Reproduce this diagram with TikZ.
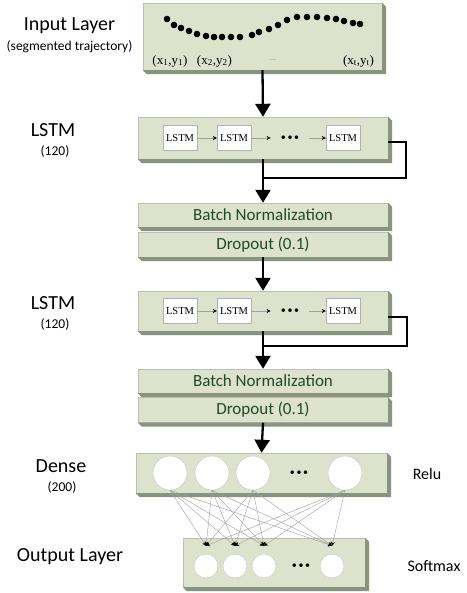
\documentclass[tikz,border=0pt]{standalone}
\usepackage{fontspec}
\setmainfont{Carlito}
\newfontfamily\timesfont{Liberation Serif}
\usetikzlibrary{arrows.meta,calc}
\definecolor{SlabFace}{HTML}{DDE2CC}
\definecolor{SlabSide}{HTML}{8A9280}
\definecolor{SlabText}{HTML}{1F4A2C}

\tikzset{
    slab/.style={fill=SlabFace, draw=SlabFace!85!black, line width=0.4pt, inner sep=0pt,
        minimum width=250pt, font=\fontsize{17}{20}\selectfont, text=SlabText},
    cell/.style={draw=gray!60, fill=white, inner sep=0pt, minimum width=34pt, minimum height=25pt,
        font=\timesfont\fontsize{10.5}{12}\selectfont},
    neuron/.style={circle, draw=gray!45, fill=white, inner sep=0pt, minimum size=34pt},
    unit/.style={circle, draw=gray!45, fill=white, inner sep=0pt, minimum size=24pt},
    layerlbl/.style={font=\fontsize{20}{24}\selectfont},
    sublbl/.style={font=\fontsize{13.5}{16}\selectfont},
    coordlbl/.style={font=\timesfont\fontsize{13}{15}\selectfont},
    flow/.style={line width=2.3pt, -{Triangle[width=15pt,length=13pt]}},
    feed/.style={line width=2.3pt},
    link/.style={draw=gray!75, line width=0.4pt, -{Stealth[length=4pt,width=4pt,color=black]}},
    dotsep/.style={font=\fontsize{10}{12}\selectfont, inner xsep=10pt, inner ysep=2pt}
}
% darker right and bottom faces of a slab
\newcommand{\slabside}[1]{%
    \fill[SlabSide] (#1.north east) -- ++(4,4) -- ($(#1.south east)+(4,4)$)
        -- ($(#1.south west)+(4,4)$) -- (#1.south west) -- (#1.south east) -- cycle;}

\begin{document}
\begin{tikzpicture}[x=1pt, y=-1pt, >=Stealth]
    \useasboundingbox (0,0) rectangle (466,593);

    % ========== Input layer ==========
    \node[slab, minimum width=239pt, minimum height=67pt] (inp) at (262.5,36.5) {};
    \slabside{inp}
    \foreach \px/\py in {167/19,174/25,181/28,189/31,197/34,206/36,214/37,222/37,231/37,240/37,
        252/35,259/32,269/29,278/25,287/20,297/17,307/17,317/17,327/18,336/19,344/21,353/23,360/24}
        \fill (\px,\py) circle (3.3);
    \node[coordlbl] (c1) at (170,61) {(x\textsubscript{1},y\textsubscript{1})};
    \node[coordlbl] (c2) at (214.5,61) {(x\textsubscript{2},y\textsubscript{2})};
    \node[coordlbl, font=\timesfont\fontsize{8}{10}\selectfont, gray] (cdots) at (273,60) {...};
    \node[coordlbl] (ct) at (358.5,61) {(x\textsubscript{t},y\textsubscript{t})};

    \node[layerlbl] (inpL) at (69.5,26) {Input Layer};
    \node[sublbl] (inpS) at (69.5,47) {(segmented trajectory)};

    % ========== First LSTM block ==========
    \node[slab, minimum height=42pt] (lstmA) at (263,138) {};
    \slabside{lstmA}
    \node[cell] (a1) at (180,138) {LSTM};
    \node[cell] (a2) at (234,138) {LSTM};
    \node[dotsep] (adots) at (290,138) {\textbullet\,\textbullet\,\textbullet};
    \node[cell] (a3) at (343,138) {LSTM};
    \draw[link] (a1) -- (a2);
    \draw[link] (a2) -- (adots);
    \draw[link] (adots) -- (a3);

    \node[layerlbl] (lstmAL) at (53,130) {LSTM};
    \node[sublbl] (lstmAS) at (55,152) {(120)};

    \node[slab, minimum height=24pt] (bnA) at (263,215) {Batch Normalization};
    \slabside{bnA}
    \node[slab, minimum height=25pt] (dropA) at (263,244.5) {Dropout (0.1)};
    \slabside{dropA}

    \draw[flow] (inp.south) -- (lstmA.north);
    \coordinate (joinA) at (263,178);
    \draw[feed] ([yshift=-4pt]lstmA.east) -- ++(18,0) |- (joinA);
    \draw[flow] (lstmA.south) -- (bnA.north);

    % ========== Second LSTM block ==========
    \node[slab, minimum height=40pt] (lstmB) at (263,311) {};
    \slabside{lstmB}
    \node[cell] (b1) at (180,311) {LSTM};
    \node[cell] (b2) at (234,311) {LSTM};
    \node[dotsep] (bdots) at (290,311) {\textbullet\,\textbullet\,\textbullet};
    \node[cell] (b3) at (343,311) {LSTM};
    \draw[link] (b1) -- (b2);
    \draw[link] (b2) -- (bdots);
    \draw[link] (bdots) -- (b3);

    \node[layerlbl] (lstmBL) at (53,303) {LSTM};
    \node[sublbl] (lstmBS) at (55,324) {(120)};

    \node[slab, minimum height=24pt] (bnB) at (263,381) {Batch Normalization};
    \slabside{bnB}
    \node[slab, minimum height=25pt] (dropB) at (263,410) {Dropout (0.1)};
    \slabside{dropB}

    \draw[flow] (dropA.south) -- (lstmB.north);
    \coordinate (joinB) at (263,346);
    \draw[feed] ([yshift=-6pt]lstmB.east) -- ++(19,0) |- (joinB);
    \draw[flow] (lstmB.south) -- (bnB.north);

    % ========== Dense layer ==========
    \node[slab, minimum width=251pt, minimum height=40pt] (dense) at (261.5,473) {};
    \slabside{dense}
    \node[neuron] (d1) at (170,473) {};
    \node[neuron] (d2) at (212,473) {};
    \node[neuron] (d3) at (253,473) {};
    \node[dotsep] (ddots) at (299,473) {\textbullet\,\textbullet\,\textbullet};
    \node[neuron] (d4) at (345,473) {};
    \draw[flow] (dropB.south) -- (dense.north);

    \node[layerlbl] (denseL) at (61,466) {Dense};
    \node[sublbl] (denseS) at (62,487) {(200)};
    \node[layerlbl, font=\fontsize{16}{19}\selectfont] (relu) at (427,474) {Relu};

    % ========== Output layer ==========
    \node[slab, minimum width=182pt, minimum height=49pt] (outp) at (274,562.5) {};
    \slabside{outp}
    \node[unit] (o1) at (206,566) {};
    \node[unit] (o2) at (235,566) {};
    \node[unit] (o3) at (264,566) {};
    \node[dotsep] (odots) at (301,566) {\textbullet\,\textbullet\,\textbullet};
    \node[unit] (o4) at (332,566) {};

    \node[layerlbl] (outL) at (70,557) {Output Layer};
    \node[layerlbl, font=\fontsize{16}{19}\selectfont] (soft) at (434,566) {Softmax};

    % fully connected links
    \foreach \i in {1,...,4}
        \foreach \j in {1,...,4}
            \draw[link] (d\i.south) -- ([yshift=8pt]o\j.north);

\end{tikzpicture}
\end{document}
